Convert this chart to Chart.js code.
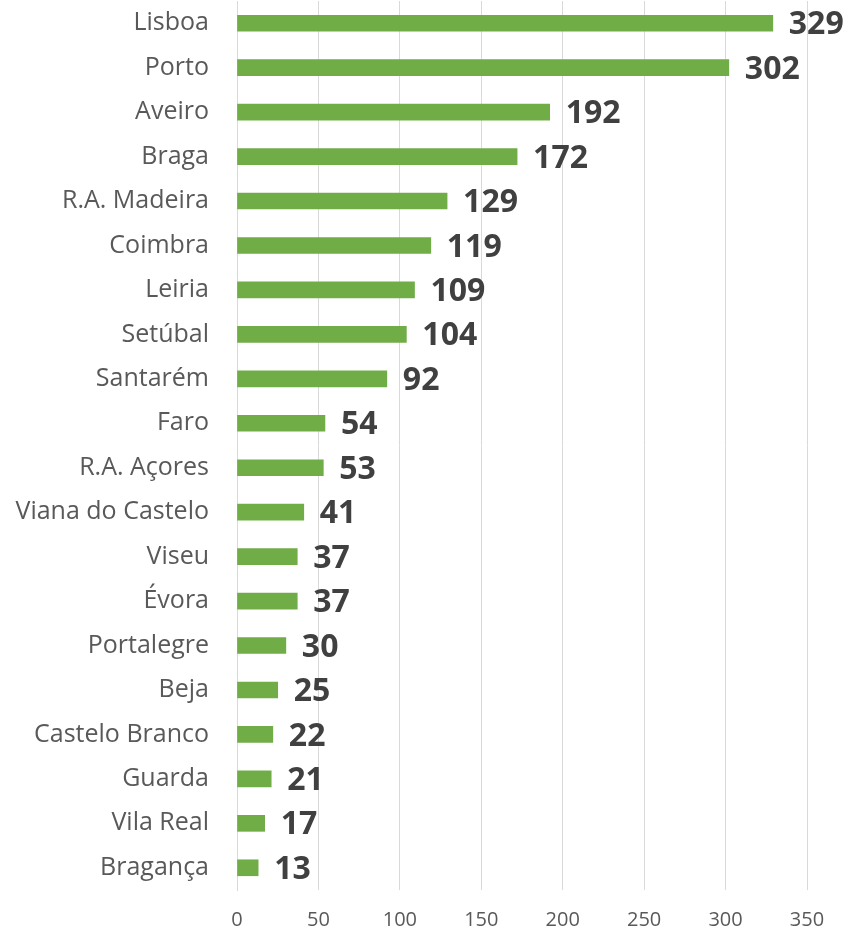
<!DOCTYPE html>
<html>
<head>
<meta charset="utf-8">
<script src="https://cdn.jsdelivr.net/npm/chart.js@4"></script>
<style>
  html, body { margin: 0; padding: 0; background: #ffffff; }
  #wrap { width: 851px; height: 932px; }
</style>
</head>
<body>
<div id="wrap"><canvas id="grafico" width="851" height="932"></canvas></div>
<script>
// Dados do gráfico
const distritos = ["Lisboa", "Porto", "Aveiro", "Braga", "R.A. Madeira", "Coimbra", "Leiria", "Setúbal",
  "Santarém", "Faro", "R.A. Açores", "Viana do Castelo", "Viseu", "Évora", "Portalegre", "Beja",
  "Castelo Branco", "Guarda", "Vila Real", "Bragança"];
const valores = [329, 302, 192, 172, 129, 119, 109, 104, 92, 54, 53, 41, 37, 37, 30, 25, 22, 21, 17, 13];
const escalaMax = 350;
const escalaPasso = 50;

// Plugin para escrever os valores ao lado das barras
const rotulosValores = {
  id: "rotulosValores",
  afterDatasetsDraw(chart) {
    const ctx = chart.ctx;
    const meta = chart.getDatasetMeta(0);
    ctx.save();
    ctx.font = "bold 32px 'Open Sans'";
    ctx.fillStyle = "#404040";
    ctx.textAlign = "left";
    ctx.textBaseline = "middle";
    meta.data.forEach((barra, i) => {
      ctx.fillText(String(valores[i]), barra.x + 16, barra.y + 2);
    });
    ctx.restore();
  }
};

const ctx = document.getElementById("grafico").getContext("2d");
new Chart(ctx, {
  type: "bar",
  data: {
    labels: distritos,
    datasets: [{
      data: valores,
      backgroundColor: "#70AD47",
      borderWidth: 0,
      barThickness: 16
    }]
  },
  options: {
    indexAxis: "y",
    responsive: false,
    animation: false,
    layout: { padding: { top: 1, right: 44, bottom: 0, left: 0 } },
    plugins: {
      legend: { display: false },
      tooltip: { enabled: false }
    },
    scales: {
      x: {
        min: 0,
        max: escalaMax,
        ticks: {
          stepSize: escalaPasso,
          color: "#595959",
          font: { family: "'Open Sans'", size: 20 },
          padding: 18
        },
        grid: { color: "#d9d9d9", lineWidth: 1, drawTicks: false },
        border: { display: false },
        afterFit(scale) { scale.height = 42; }
      },
      y: {
        ticks: {
          color: "#595959",
          font: { family: "'Open Sans'", size: 25 },
          padding: 28
        },
        grid: { display: false, drawTicks: false },
        border: { display: true, color: "#d9d9d9", width: 1 },
        afterFit(scale) {
          scale.width = 237;
          scale.paddingTop = 0;
          scale.paddingBottom = 0;
        }
      }
    }
  },
  plugins: [rotulosValores]
});
</script>
</body>
</html>
